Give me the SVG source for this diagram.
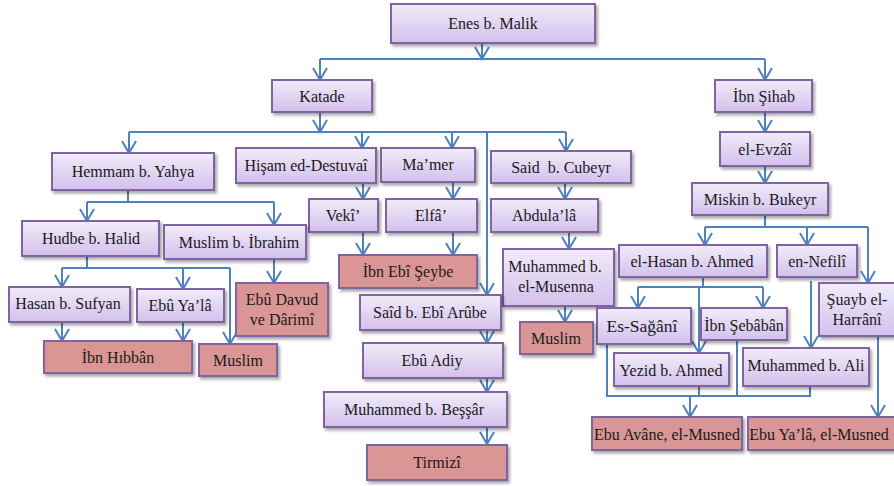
<svg xmlns="http://www.w3.org/2000/svg" width="894" height="486" viewBox="0 0 894 486">
<defs>
<linearGradient id="pg" x1="0" y1="0" x2="0" y2="1">
<stop offset="0" stop-color="#F1ECF9"/>
<stop offset="1" stop-color="#D3C0EC"/>
</linearGradient>
<filter id="sh" x="-10%" y="-10%" width="130%" height="140%">
<feDropShadow dx="2" dy="2.5" stdDeviation="1.5" flood-color="#000" flood-opacity="0.35"/>
</filter>
<marker id="ar" markerUnits="userSpaceOnUse" markerWidth="16" markerHeight="16" viewBox="0 0 16 16" refX="13" refY="8" orient="auto" overflow="visible">
<path d="M1,1 L13,8 L1,15" fill="none" stroke="#4F81BD" stroke-width="2"/>
</marker>
</defs>
<style>
.b rect{fill:url(#pg);stroke:#8064A2;stroke-width:2;filter:url(#sh)}
.p rect{fill:#D99694;stroke:#8064A2;stroke-width:2;filter:url(#sh)}
text{font-size:16px;fill:#1a1a1a;text-anchor:middle;white-space:pre}
#connectors path{fill:none;stroke:#4F81BD;stroke-width:2}
#connectors path.a{marker-end:url(#ar)}
</style>
<rect width="894" height="486" fill="#fff"/>
<g id="connectors">
<path class="a" d="M482,43 V59"/>
<path d="M320,59 H765"/>
<path class="a" d="M320,59 V80"/>
<path class="a" d="M765,59 V80"/>
<path class="a" d="M320,112 V132"/>
<path d="M129,132 H566"/>
<path class="a" d="M129,132 V153"/>
<path class="a" d="M362,132 V148"/>
<path class="a" d="M452,132 V148"/>
<path class="a" d="M487,132 V295"/>
<path class="a" d="M566,132 V151"/>
<path class="a" d="M363,183 V199"/>
<path class="a" d="M363,232 V255"/>
<path class="a" d="M453,182 V199"/>
<path class="a" d="M453,232 V255"/>
<path class="a" d="M565,183 V199"/>
<path class="a" d="M569,232 V249"/>
<path class="a" d="M565,306 V322"/>
<path class="a" d="M487,330 V343"/>
<path class="a" d="M487,378 V392"/>
<path class="a" d="M487,427 V444"/>
<path class="a" d="M765,112 V132"/>
<path class="a" d="M765,166 V183"/>
<path d="M765,215 V227"/>
<path d="M705,227 H868"/>
<path class="a" d="M705,227 V245"/>
<path class="a" d="M807,227 V245"/>
<path class="a" d="M868,227 V283"/>
<path d="M703,277 V287"/>
<path d="M638,287 H763"/>
<path class="a" d="M638,287 V308"/>
<path class="a" d="M763,287 V308"/>
<path class="a" d="M699,287 V353"/>
<path class="a" d="M811,281 V348"/>
<path d="M607,344 V396 H811"/>
<path d="M699,386 V396"/>
<path d="M737,340 V396"/>
<path d="M810,386 V396"/>
<path class="a" d="M690,396 V417"/>
<path class="a" d="M878,336 V417"/>
<path d="M128,190 V202"/>
<path d="M87,202 H274"/>
<path class="a" d="M87,202 V221"/>
<path class="a" d="M274,202 V225"/>
<path d="M87,256 V268"/>
<path d="M62,268 H230"/>
<path class="a" d="M62,268 V287"/>
<path class="a" d="M183,268 V289"/>
<path class="a" d="M230,268 V344"/>
<path class="a" d="M62,322 V341"/>
<path class="a" d="M183,322 V341"/>
<path class="a" d="M274,259 V283"/>
</g>
<g font-family="'Liberation Serif', Tinos, 'Times New Roman', 'DejaVu Serif', serif">
<g id="enes" class="b"><rect x="391" y="4" width="204" height="39"/><text x="493" y="29">Enes b. Malik</text></g>
<g id="katade" class="b"><rect x="272" y="80" width="100" height="32"/><text x="322" y="102">Katade</text></g>
<g id="ibn-sihab" class="b"><rect x="715" y="80" width="97" height="32"/><text x="764" y="102">İbn Şihab</text></g>
<g id="evzai" class="b"><rect x="720" y="132" width="90" height="34"/><text x="765" y="155">el-Evzâî</text></g>
<g id="hemmam" class="b"><rect x="52" y="153" width="162" height="37"/><text x="133" y="177">Hemmam b. Yahya</text></g>
<g id="hisam" class="b"><rect x="236" y="148" width="140" height="35"/><text x="306" y="171">Hişam ed-Destuvaî</text></g>
<g id="mamer" class="b"><rect x="381" y="148" width="94" height="34"/><text x="428" y="170">Ma’mer</text></g>
<g id="said-cubeyr" class="b"><rect x="491" y="151" width="140" height="32"/><text x="561" y="173">Said  b. Cubeyr</text></g>
<g id="veki" class="b"><rect x="309" y="199" width="69" height="33"/><text x="343" y="221">Vekî’</text></g>
<g id="elfa" class="b"><rect x="386" y="199" width="91" height="33"/><text x="431" y="221">Elfâ’</text></g>
<g id="abdula" class="b"><rect x="491" y="199" width="107" height="33"/><text x="544" y="221">Abdula’lâ</text></g>
<g id="miskin" class="b"><rect x="692" y="183" width="136" height="32"/><text x="760" y="205">Miskin b. Bukeyr</text></g>
<g id="hudbe" class="b"><rect x="22" y="221" width="137" height="35"/><text x="91" y="244">Hudbe b. Halid</text></g>
<g id="muslim-ibrahim" class="b"><rect x="164" y="225" width="142" height="34"/><text x="239" y="248">Muslim b. İbrahim</text></g>
<g id="ibn-ebi-seybe" class="p"><rect x="339" y="255" width="138" height="33"/><text x="408" y="277">İbn Ebî Şeybe</text></g>
<g id="musenna" class="b"><rect x="503" y="249" width="111" height="57"/><text x="555" y="272">Muhammed b.</text><text x="556" y="292">el-Musenna</text></g>
<g id="el-hasan" class="b"><rect x="619" y="245" width="148" height="32"/><text x="692" y="267">el-Hasan b. Ahmed</text></g>
<g id="nefili" class="b"><rect x="777" y="245" width="80" height="32"/><text x="817" y="267">en-Nefilî</text></g>
<g id="hasan-sufyan" class="b"><rect x="9" y="287" width="121" height="35"/><text x="68" y="309">Hasan b. Sufyan</text></g>
<g id="ebu-yala" class="b"><rect x="137" y="289" width="87" height="33"/><text x="180" y="311">Ebû Ya’lâ</text></g>
<g id="ebu-davud" class="p"><rect x="236" y="283" width="92" height="53"/><text x="282" y="305">Ebû Davud</text><text x="282" y="325">ve Dârimî</text></g>
<g id="said-arube" class="b"><rect x="360" y="295" width="141" height="35"/><text x="430" y="318">Saîd b. Ebî Arûbe</text></g>
<g id="suayb" class="b"><rect x="819" y="283" width="76" height="53"/><text x="857" y="305">Şuayb el-</text><text x="857" y="325">Harrânî</text></g>
<g id="es-sagani" class="b"><rect x="597" y="308" width="94" height="36"/><text x="642" y="332" style="font-size:17.5px">Es-Sağânî</text></g>
<g id="ibn-sebaban" class="b"><rect x="701" y="308" width="86" height="32"/><text x="744" y="331">İbn Şebâbân</text></g>
<g id="ibn-hibban" class="p"><rect x="44" y="341" width="148" height="32"/><text x="118" y="363">İbn Hıbbân</text></g>
<g id="muslim-left" class="p"><rect x="199" y="344" width="78" height="32"/><text x="238" y="366">Muslim</text></g>
<g id="muslim-right" class="p"><rect x="520" y="322" width="73" height="32"/><text x="556" y="344">Muslim</text></g>
<g id="ebu-adiy" class="b"><rect x="363" y="343" width="140" height="35"/><text x="432" y="366">Ebû Adiy</text></g>
<g id="yezid" class="b"><rect x="614" y="353" width="115" height="33"/><text x="671" y="376">Yezid b. Ahmed</text></g>
<g id="muhammed-ali" class="b"><rect x="743" y="348" width="126" height="38"/><text x="806" y="371">Muhammed b. Ali</text></g>
<g id="bessar" class="b"><rect x="324" y="392" width="183" height="35"/><text x="414" y="415">Muhammed b. Beşşâr</text></g>
<g id="ebu-avane" class="p"><rect x="592" y="417" width="150" height="33"/><text x="667" y="440">Ebu Avâne, el-Musned</text></g>
<g id="ebu-yala-musned" class="p"><rect x="748" y="417" width="147" height="33"/><text x="819" y="440">Ebu Ya’lâ, el-Musned</text></g>
<g id="tirmizi" class="p"><rect x="367" y="445" width="140" height="35"/><text x="437" y="468">Tirmizî</text></g>
</g>
</svg>
